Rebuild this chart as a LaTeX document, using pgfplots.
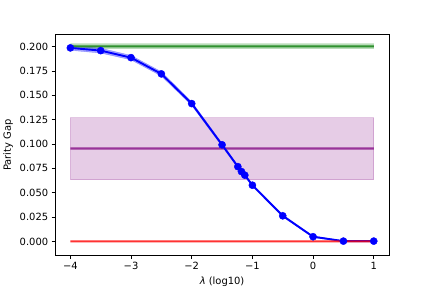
\documentclass[border=0pt]{standalone}
\usepackage{pgfplots}
\pgfplotsset{compat=1.18}
\usepackage{fontspec}
\setmainfont{DejaVu Sans}
\definecolor{mplpurple}{HTML}{800080}
\definecolor{mplgreen}{HTML}{008000}
\definecolor{mplblue}{HTML}{0000FF}
\definecolor{linepurple}{HTML}{993399}
\definecolor{linegreen}{HTML}{2E912E}
\pgfplotstableread{
x y
-4 0.1987
-3.5 0.1959
-3 0.1887
-2.5 0.1720
-2 0.1415
-1.5 0.0992
-1.24 0.0768
-1.18 0.0717
-1.125 0.0680
-1 0.0577
-0.5 0.0263
0 0.0048
0.5 0.0003
1 0.0003
}\blueData
\pgfplotstableread{
x y
-4 0.2012
-3.5 0.1984
-3 0.1910
-2.5 0.1742
-2 0.1434
-1.5 0.1007
-1.24 0.0782
-1.18 0.0731
-1.125 0.0693
-1 0.0590
-0.5 0.0274
0 0.0056
0.5 0.0008
1 0.0008
1 -0.0004
0.5 -0.0004
0 0.0040
-0.5 0.0252
-1 0.0564
-1.125 0.0667
-1.18 0.0703
-1.24 0.0754
-1.5 0.0977
-2 0.1396
-2.5 0.1698
-3 0.1864
-3.5 0.1934
-4 0.1962
-4 0.2012
}\blueBand
\begin{document}
\begin{tikzpicture}
\begin{axis}[
  scale only axis, width=334.8bp, height=221.76bp,
  at={(0,0)}, anchor=south west,
  xmin=-4.25, xmax=1.25, ymin=-0.0145, ymax=0.2125,
  xtick={-4,-3,-2,-1,0,1}, xticklabels={−4,−3,−2,−1,0,1},
  ytick={0,0.025,0.05,0.075,0.1,0.125,0.15,0.175,0.2},
  yticklabels={0.000,0.025,0.050,0.075,0.100,0.125,0.150,0.175,0.200},
  tick align=outside, major tick length=3.5bp, tick pos=left,
  tick style={black, line width=0.8bp},
  axis line style={line width=0.8bp},
  ticklabel style={font=\fontsize{10}{12}\selectfont},
  label style={font=\fontsize{10}{12}\selectfont},
  xlabel={\textit{λ} (log10)}, ylabel={Parity Gap},
]
% purple band
\addplot[fill=mplpurple, fill opacity=0.2, draw=mplpurple, draw opacity=0.2, line width=1bp]
  coordinates {(-4,0.0633) (1,0.0633) (1,0.1269) (-4,0.1269) (-4,0.0633)};
% green band
\addplot[fill=mplgreen, fill opacity=0.28, draw=none]
  coordinates {(-4,0.1976) (1,0.1976) (1,0.2034) (-4,0.2034) (-4,0.1976)};
% blue band
\addplot[fill=mplblue, fill opacity=0.35, draw=mplblue, draw opacity=0.3] table[x=x, y=y] {\blueBand};
% horizontal lines (as thin filled strips)
\addplot[fill=linepurple, draw=none]
  coordinates {(-4,0.0943) (1,0.0943) (1,0.0965) (-4,0.0965) (-4,0.0943)};
\addplot[fill=linegreen, draw=none]
  coordinates {(-4,0.1992) (1,0.1992) (1,0.2014) (-4,0.2014) (-4,0.1992)};
\addplot[draw=mplblue, line width=1.9bp] table[x=x, y=y] {\blueData};
\addplot[fill=red, fill opacity=0.8, draw=none]
  coordinates {(-4,-0.0011) (1,-0.0011) (1,0.0011) (-4,0.0011) (-4,-0.0011)};
\addplot[only marks, mark=*, mark size=3.6bp, mplblue, mark options={draw=mplblue, fill=mplblue}] table[x=x, y=y] {\blueData};
\end{axis}
\path (-54bp,-31.68bp) rectangle ++(432bp,288bp);
\end{tikzpicture}
\end{document}
